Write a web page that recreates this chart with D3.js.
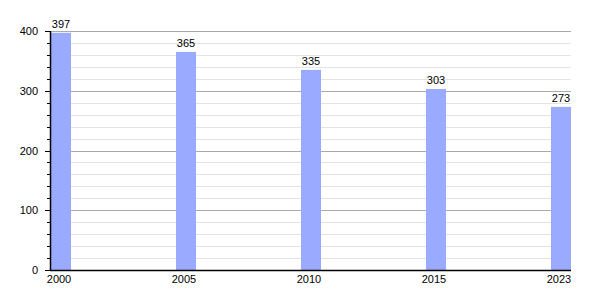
<!DOCTYPE html>
<html>
<head>
<meta charset="utf-8">
<script src="https://cdn.jsdelivr.net/npm/d3@7"></script>
<style>
  body { margin: 0; background: #fff; }
  text { font-family: "Liberation Sans", Arial, sans-serif; font-size: 11px; fill: #000; }
</style>
</head>
<body>
<div id="chart"></div>
<script>
const years = ["2000", "2005", "2010", "2015", "2023"];
const values = [397, 365, 335, 303, 273];
const yTicks = [0, 100, 200, 300, 400];

const margin = { top: 31, right: 29, bottom: 30, left: 50 };
const w = 600 - margin.left - margin.right;
const h = 300 - margin.top - margin.bottom;
const barW = 20;

const svg = d3
  .select("#chart")
  .append("svg")
  .attr("width", 600)
  .attr("height", 300)
  .append("g")
  .attr("transform", "translate(" + margin.left + "," + margin.top + ")");

const x = d3.scalePoint().domain(years).range([11, w - 10]);
const y = d3.scaleLinear().domain([0, 400]).range([h, 0]);

// minor grid every 20
svg
  .append("g")
  .selectAll("line")
  .data(d3.range(20, 400, 20).filter((d) => d % 100 !== 0))
  .enter()
  .append("line")
  .attr("x1", 0)
  .attr("x2", w)
  .attr("y1", (d) => Math.round(y(d)) + 0.5)
  .attr("y2", (d) => Math.round(y(d)) + 0.5)
  .attr("stroke", "#e3e3e3");

// major grid
svg
  .append("g")
  .selectAll("line")
  .data(yTicks.slice(1))
  .enter()
  .append("line")
  .attr("x1", 0)
  .attr("x2", w)
  .attr("y1", (d) => Math.round(y(d)) + 0.5)
  .attr("y2", (d) => Math.round(y(d)) + 0.5)
  .attr("stroke", "#aaaaaa");

svg
  .selectAll("rect.bar")
  .data(values)
  .enter()
  .append("rect")
  .attr("class", "bar")
  .attr("x", (d, i) => x(years[i]) - barW / 2)
  .attr("y", (d) => y(d))
  .attr("width", barW)
  .attr("height", (d) => h - y(d))
  .attr("fill", "#99aaff");

svg
  .selectAll("text.val")
  .data(values)
  .enter()
  .append("text")
  .attr("class", "val")
  .attr("x", (d, i) => x(years[i]))
  .attr("y", (d) => y(d) - 5)
  .attr("text-anchor", "middle")
  .text((d) => d);

// y axis with minor ticks
const yAxis = svg.append("g");
yAxis
  .selectAll("line.minor")
  .data(d3.range(0, 401, 20))
  .enter()
  .append("line")
  .attr("x1", (d) => (d % 100 === 0 ? -5 : -3))
  .attr("x2", 0)
  .attr("y1", (d) => Math.round(y(d)) + 0.5)
  .attr("y2", (d) => Math.round(y(d)) + 0.5)
  .attr("stroke", "#000");
yAxis
  .append("line")
  .attr("x1", 0.5)
  .attr("x2", 0.5)
  .attr("y1", 0)
  .attr("y2", h)
  .attr("stroke", "#000")
  .attr("stroke-width", 1.5);
yAxis
  .selectAll("text")
  .data(yTicks)
  .enter()
  .append("text")
  .attr("x", -12)
  .attr("y", (d) => y(d) + 4)
  .attr("text-anchor", "end")
  .text((d) => d);

// x axis
const xAxis = svg.append("g").attr("transform", "translate(0," + h + ")");
xAxis
  .append("line")
  .attr("x1", 0)
  .attr("x2", w)
  .attr("y1", 0.5)
  .attr("y2", 0.5)
  .attr("stroke", "#000")
  .attr("stroke-width", 1.5);
xAxis
  .selectAll("text")
  .data(years)
  .enter()
  .append("text")
  .attr("x", (d) => x(d) - 2)
  .attr("y", 13)
  .attr("text-anchor", "middle")
  .text((d) => d);
</script>
</body>
</html>
